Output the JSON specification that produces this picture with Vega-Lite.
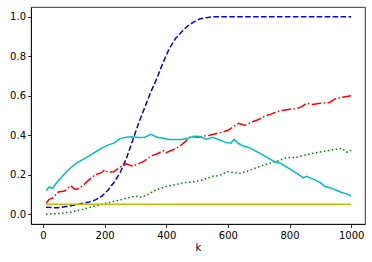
{
  "$schema": "https://vega.github.io/schema/vega-lite/v6.json",
  "width": 334,
  "height": 217,
  "autosize": "none",
  "padding": {"left": 31, "top": 7, "right": 7, "bottom": 38},
  "background": "white",
  "config": {
    "view": {"stroke": "black", "strokeWidth": 0.8},
    "axis": {
      "grid": false,
      "labelFont": "DejaVu Sans",
      "labelFontSize": 10,
      "labelColor": "#000000",
      "titleFont": "DejaVu Sans",
      "titleFontSize": 10,
      "titleFontWeight": "normal",
      "titleColor": "#000000",
      "tickColor": "#000000",
      "tickSize": 3.5,
      "tickWidth": 0.8,
      "domainColor": "#000000",
      "domainWidth": 0.8,
      "labelPadding": 3
    }
  },
  "datasets": {
    "pts": [
      {"s":"b","k":10,"v":0.035},{"s":"b","k":30,"v":0.033},{"s":"b","k":50,"v":0.032},{"s":"b","k":70,"v":0.038},{"s":"b","k":90,"v":0.042},{"s":"b","k":110,"v":0.048},{"s":"b","k":130,"v":0.055},{"s":"b","k":150,"v":0.062},{"s":"b","k":170,"v":0.072},{"s":"b","k":190,"v":0.09},{"s":"b","k":210,"v":0.12},{"s":"b","k":230,"v":0.16},{"s":"b","k":250,"v":0.21},{"s":"b","k":270,"v":0.28},{"s":"b","k":290,"v":0.37},{"s":"b","k":310,"v":0.46},{"s":"b","k":330,"v":0.54},{"s":"b","k":350,"v":0.62},{"s":"b","k":370,"v":0.69},{"s":"b","k":390,"v":0.77},{"s":"b","k":410,"v":0.84},{"s":"b","k":430,"v":0.89},{"s":"b","k":450,"v":0.925},{"s":"b","k":470,"v":0.955},{"s":"b","k":490,"v":0.975},{"s":"b","k":510,"v":0.99},{"s":"b","k":530,"v":0.996},{"s":"b","k":550,"v":1.0},{"s":"b","k":700,"v":1.0},{"s":"b","k":850,"v":1.0},{"s":"b","k":1000,"v":1.0},
      {"s":"r","k":10,"v":0.055},{"s":"r","k":20,"v":0.075},{"s":"r","k":30,"v":0.08},{"s":"r","k":50,"v":0.112},{"s":"r","k":70,"v":0.117},{"s":"r","k":90,"v":0.145},{"s":"r","k":100,"v":0.13},{"s":"r","k":110,"v":0.125},{"s":"r","k":130,"v":0.145},{"s":"r","k":150,"v":0.175},{"s":"r","k":170,"v":0.2},{"s":"r","k":190,"v":0.21},{"s":"r","k":200,"v":0.225},{"s":"r","k":210,"v":0.213},{"s":"r","k":230,"v":0.215},{"s":"r","k":250,"v":0.238},{"s":"r","k":270,"v":0.255},{"s":"r","k":290,"v":0.243},{"s":"r","k":310,"v":0.255},{"s":"r","k":330,"v":0.27},{"s":"r","k":350,"v":0.295},{"s":"r","k":370,"v":0.305},{"s":"r","k":390,"v":0.322},{"s":"r","k":400,"v":0.312},{"s":"r","k":420,"v":0.325},{"s":"r","k":440,"v":0.34},{"s":"r","k":460,"v":0.365},{"s":"r","k":480,"v":0.395},{"s":"r","k":500,"v":0.39},{"s":"r","k":520,"v":0.395},{"s":"r","k":540,"v":0.4},{"s":"r","k":560,"v":0.408},{"s":"r","k":580,"v":0.415},{"s":"r","k":600,"v":0.425},{"s":"r","k":620,"v":0.445},{"s":"r","k":635,"v":0.46},{"s":"r","k":655,"v":0.45},{"s":"r","k":680,"v":0.468},{"s":"r","k":700,"v":0.48},{"s":"r","k":720,"v":0.497},{"s":"r","k":740,"v":0.507},{"s":"r","k":760,"v":0.52},{"s":"r","k":780,"v":0.527},{"s":"r","k":800,"v":0.532},{"s":"r","k":820,"v":0.533},{"s":"r","k":840,"v":0.545},{"s":"r","k":855,"v":0.562},{"s":"r","k":875,"v":0.556},{"s":"r","k":900,"v":0.562},{"s":"r","k":930,"v":0.566},{"s":"r","k":950,"v":0.585},{"s":"r","k":970,"v":0.592},{"s":"r","k":990,"v":0.598},{"s":"r","k":1000,"v":0.6},
      {"s":"g","k":10,"v":0.0},{"s":"g","k":50,"v":0.003},{"s":"g","k":90,"v":0.01},{"s":"g","k":130,"v":0.025},{"s":"g","k":170,"v":0.042},{"s":"g","k":210,"v":0.057},{"s":"g","k":250,"v":0.072},{"s":"g","k":270,"v":0.08},{"s":"g","k":300,"v":0.092},{"s":"g","k":320,"v":0.085},{"s":"g","k":340,"v":0.1},{"s":"g","k":370,"v":0.125},{"s":"g","k":400,"v":0.14},{"s":"g","k":430,"v":0.15},{"s":"g","k":460,"v":0.16},{"s":"g","k":490,"v":0.164},{"s":"g","k":520,"v":0.175},{"s":"g","k":550,"v":0.192},{"s":"g","k":570,"v":0.195},{"s":"g","k":600,"v":0.215},{"s":"g","k":620,"v":0.21},{"s":"g","k":640,"v":0.206},{"s":"g","k":670,"v":0.222},{"s":"g","k":700,"v":0.24},{"s":"g","k":730,"v":0.256},{"s":"g","k":760,"v":0.268},{"s":"g","k":790,"v":0.287},{"s":"g","k":820,"v":0.287},{"s":"g","k":850,"v":0.299},{"s":"g","k":880,"v":0.31},{"s":"g","k":910,"v":0.318},{"s":"g","k":940,"v":0.326},{"s":"g","k":970,"v":0.333},{"s":"g","k":985,"v":0.314},{"s":"g","k":1000,"v":0.323},
      {"s":"c","k":10,"v":0.12},{"s":"c","k":20,"v":0.138},{"s":"c","k":30,"v":0.13},{"s":"c","k":50,"v":0.17},{"s":"c","k":70,"v":0.205},{"s":"c","k":90,"v":0.235},{"s":"c","k":110,"v":0.26},{"s":"c","k":130,"v":0.278},{"s":"c","k":150,"v":0.295},{"s":"c","k":170,"v":0.315},{"s":"c","k":190,"v":0.335},{"s":"c","k":210,"v":0.35},{"s":"c","k":230,"v":0.36},{"s":"c","k":250,"v":0.383},{"s":"c","k":270,"v":0.39},{"s":"c","k":290,"v":0.392},{"s":"c","k":310,"v":0.388},{"s":"c","k":330,"v":0.39},{"s":"c","k":350,"v":0.404},{"s":"c","k":370,"v":0.39},{"s":"c","k":390,"v":0.385},{"s":"c","k":410,"v":0.378},{"s":"c","k":430,"v":0.378},{"s":"c","k":450,"v":0.378},{"s":"c","k":470,"v":0.385},{"s":"c","k":490,"v":0.395},{"s":"c","k":510,"v":0.393},{"s":"c","k":530,"v":0.38},{"s":"c","k":550,"v":0.39},{"s":"c","k":570,"v":0.378},{"s":"c","k":590,"v":0.365},{"s":"c","k":610,"v":0.36},{"s":"c","k":620,"v":0.379},{"s":"c","k":635,"v":0.358},{"s":"c","k":650,"v":0.345},{"s":"c","k":670,"v":0.337},{"s":"c","k":690,"v":0.32},{"s":"c","k":710,"v":0.303},{"s":"c","k":730,"v":0.285},{"s":"c","k":750,"v":0.267},{"s":"c","k":770,"v":0.258},{"s":"c","k":790,"v":0.24},{"s":"c","k":810,"v":0.22},{"s":"c","k":830,"v":0.2},{"s":"c","k":845,"v":0.184},{"s":"c","k":855,"v":0.192},{"s":"c","k":880,"v":0.175},{"s":"c","k":900,"v":0.16},{"s":"c","k":915,"v":0.14},{"s":"c","k":935,"v":0.133},{"s":"c","k":950,"v":0.122},{"s":"c","k":970,"v":0.11},{"s":"c","k":990,"v":0.1},{"s":"c","k":1000,"v":0.092},
      {"s":"y","k":10,"v":0.05},{"s":"y","k":1000,"v":0.05}
    ]
  },
  "data": {"name": "pts"},
  "encoding": {
    "x": {"field": "k", "type": "quantitative", "scale": {"domain": [-39, 1045], "nice": false, "zero": false},
          "axis": {"values": [0,200,400,600,800,1000], "format": "d", "title": "k", "titlePadding": 2}},
    "y": {"field": "v", "type": "quantitative", "scale": {"domain": [-0.05, 1.05], "nice": false, "zero": false},
          "axis": {"values": [0,0.2,0.4,0.6,0.8,1.0], "format": ".1f", "title": null, "labelPadding": 2}},
    "order": {"field": "k", "type": "quantitative"}
  },
  "layer": [
    {"transform": [{"filter": "datum.s === 'b'"}], "mark": {"type": "line", "color": "#0000ff", "strokeWidth": 1.5, "strokeDash": [5.55, 2.4]}},
    {"transform": [{"filter": "datum.s === 'r'"}], "mark": {"type": "line", "color": "#ff0000", "strokeWidth": 1.5, "strokeDash": [9.6, 2.4, 1.5, 2.4]}},
    {"transform": [{"filter": "datum.s === 'g'"}], "mark": {"type": "line", "color": "#008000", "strokeWidth": 1.5, "strokeDash": [1.5, 2.5]}},
    {"transform": [{"filter": "datum.s === 'c'"}], "mark": {"type": "line", "color": "#00bfbf", "strokeWidth": 1.5}},
    {"transform": [{"filter": "datum.s === 'y'"}], "mark": {"type": "line", "color": "#bfbf00", "strokeWidth": 1.5}}
  ]
}
